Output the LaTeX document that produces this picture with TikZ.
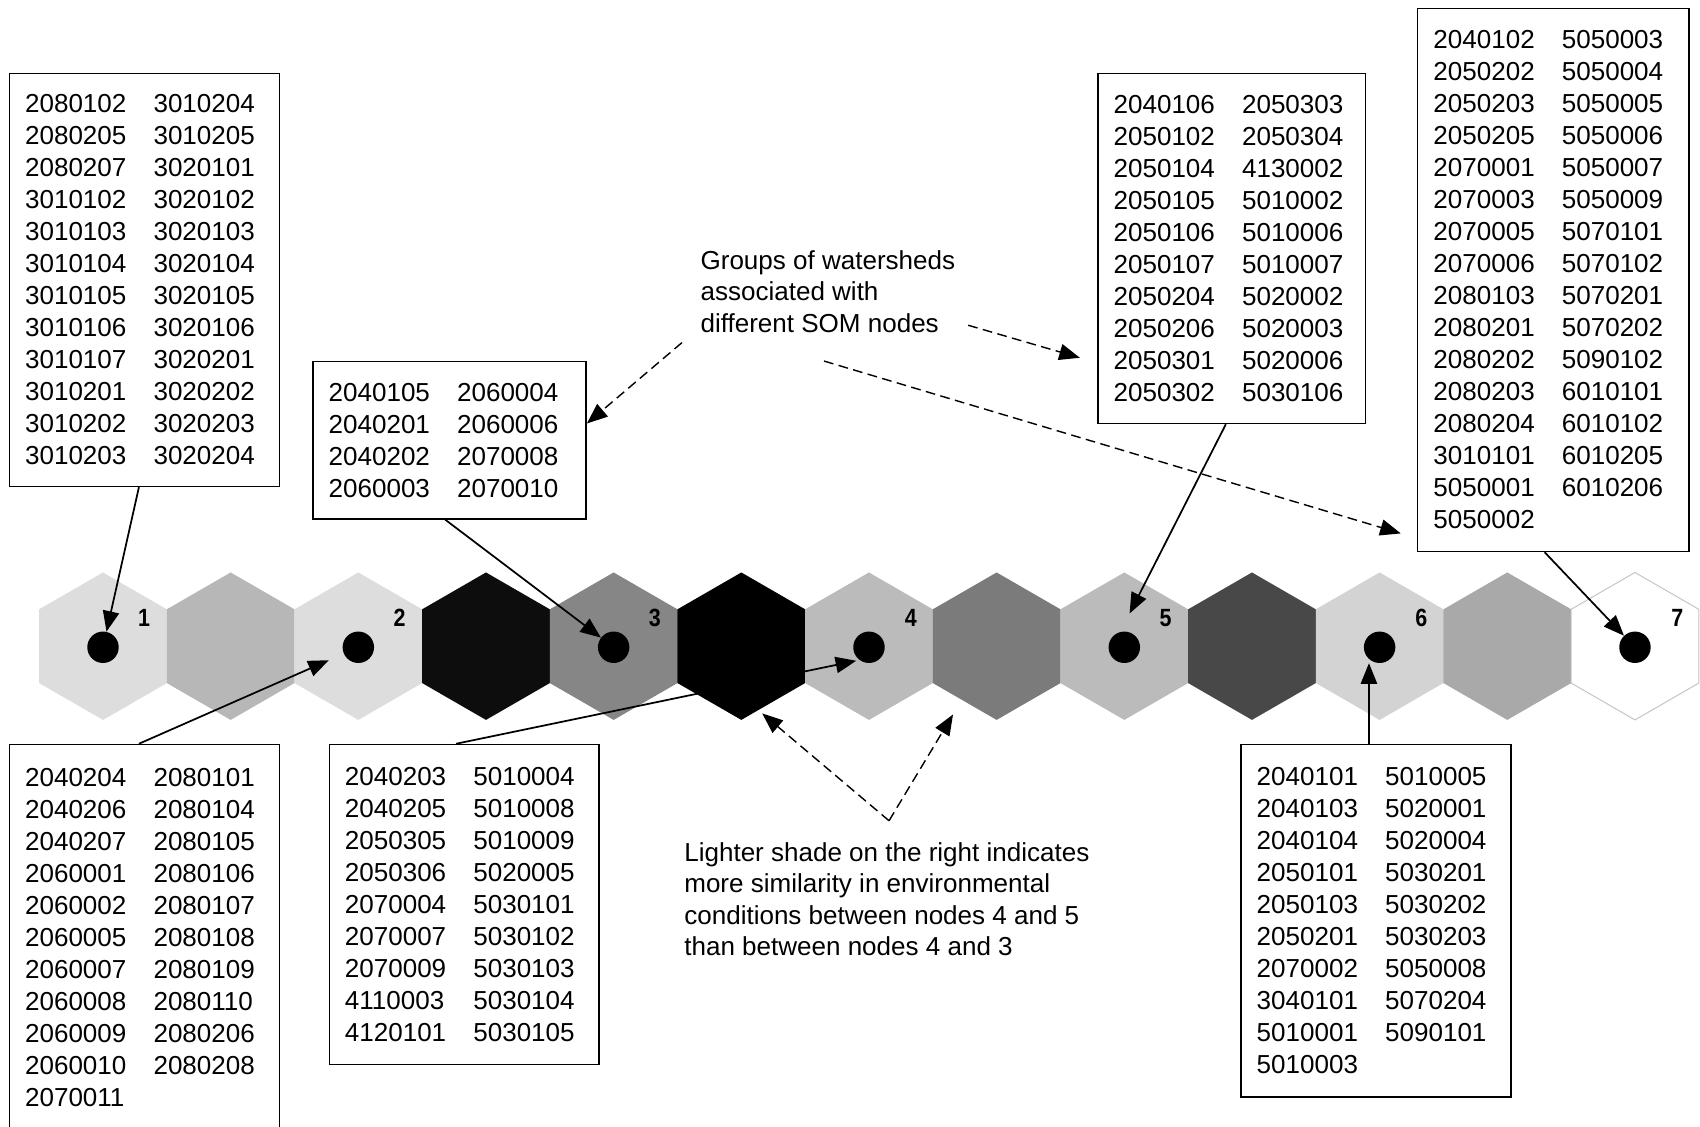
\documentclass[tikz,border=0pt]{standalone}
\usepackage{fontspec}
\setmainfont{Liberation Sans}
\newfontfamily\numfont[FakeStretch=0.86]{Liberation Sans}
\usetikzlibrary{arrows.meta}
\definecolor{hA}{HTML}{DDDDDD}
\definecolor{hB}{HTML}{B7B7B7}
\definecolor{hC}{HTML}{0D0D0D}
\definecolor{hD}{HTML}{868686}
\definecolor{hE}{HTML}{000000}
\definecolor{hF}{HTML}{BBBBBB}
\definecolor{hG}{HTML}{7B7B7B}
\definecolor{hH}{HTML}{484848}
\definecolor{hI}{HTML}{D3D3D3}
\definecolor{hJ}{HTML}{A9A9A9}
\definecolor{hK}{HTML}{FFFFFF}
\definecolor{hexedge}{HTML}{C4C4C4}
\newcommand\wpair[2]{\makebox[118.5pt][l]{#1}#2}
\tikzset{
  lst/.style={draw=black, line width=1.3pt, inner xsep=14.5pt, inner ysep=0pt,
    align=left, anchor=north west, font=\fontsize{24}{29.5}\selectfont},
  somdot/.style={circle, fill=black, minimum size=29pt, inner sep=0pt},
  num/.style={font=\numfont\bfseries\fontsize{23}{23}\selectfont, inner sep=0pt},
  note/.style={anchor=north west, inner sep=0pt, align=left,
    font=\fontsize{24}{29}\selectfont},
  arr/.style={-{Triangle[length=19pt,width=15pt]}, line width=1.6pt},
  darr/.style={-{Triangle[length=19pt,width=15pt]}, line width=1.3pt,
    dash pattern=on 9pt off 5pt}
}
\begin{document}
\begin{tikzpicture}[x=1pt,y=-1pt]
\useasboundingbox (0,0) rectangle (1568,1039);
\fill[white] (0,0) rectangle (1568,1039);

% hexagon row
\foreach \k/\c in {0/hA,1/hB,2/hA,3/hC,4/hD,5/hE,6/hF,7/hG,8/hF,9/hH,10/hI,11/hJ,12/hK}{
  \pgfmathsetmacro\cx{95+117.75*\k}
  \fill[\c] (\cx,528) -- ({\cx+58.9},562) -- ({\cx+58.9},630) -- (\cx,664)
    -- ({\cx-58.9},630) -- ({\cx-58.9},562) -- cycle;
}
\draw[hexedge, line width=0.9pt] (1508,528) -- (1566.9,562) -- (1566.9,630) -- (1508,664)
    -- (1449.1,630) -- (1449.1,562) -- cycle;

% SOM node dots and numbers
\node[somdot] (d1) at (95,597) {};
\node[somdot] (d2) at (330.5,597) {};
\node[somdot] (d3) at (566,597) {};
\node[somdot] (d4) at (801.5,597) {};
\node[somdot] (d5) at (1037,597) {};
\node[somdot] (d6) at (1272.5,597) {};
\node[somdot] (d7) at (1508,597) {};
\node[num] (n1) at (133,570) {1};
\node[num] (n2) at (368.5,570) {2};
\node[num] (n3) at (604,570) {3};
\node[num] (n4) at (840,570) {4};
\node[num] (n5) at (1075,570) {5};
\node[num] (n6) at (1311,570) {6};
\node[num] (n7) at (1547,570) {7};

% boxes
\node[lst, text width=220pt, minimum height=381pt] (bA) at (8,67) {%
\wpair{2080102}{3010204}\\ \wpair{2080205}{3010205}\\ \wpair{2080207}{3020101}\\
\wpair{3010102}{3020102}\\ \wpair{3010103}{3020103}\\ \wpair{3010104}{3020104}\\
\wpair{3010105}{3020105}\\ \wpair{3010106}{3020106}\\ \wpair{3010107}{3020201}\\
\wpair{3010201}{3020202}\\ \wpair{3010202}{3020203}\\ \wpair{3010203}{3020204}};

\node[lst, text width=223pt, minimum height=145pt] (bB) at (288,333) {%
\wpair{2040105}{2060004}\\ \wpair{2040201}{2060006}\\ \wpair{2040202}{2070008}\\
\wpair{2060003}{2070010}};

\node[lst, text width=218pt, minimum height=323pt] (bC) at (1012,67) {%
\wpair{2040106}{2050303}\\ \wpair{2050102}{2050304}\\ \wpair{2050104}{4130002}\\
\wpair{2050105}{5010002}\\ \wpair{2050106}{5010006}\\ \wpair{2050107}{5010007}\\
\wpair{2050204}{5020002}\\ \wpair{2050206}{5020003}\\ \wpair{2050301}{5020006}\\
\wpair{2050302}{5030106}};

\node[lst, text width=221pt, minimum height=501pt] (bD) at (1307,7) {%
\wpair{2040102}{5050003}\\ \wpair{2050202}{5050004}\\ \wpair{2050203}{5050005}\\
\wpair{2050205}{5050006}\\ \wpair{2070001}{5050007}\\ \wpair{2070003}{5050009}\\
\wpair{2070005}{5070101}\\ \wpair{2070006}{5070102}\\ \wpair{2080103}{5070201}\\
\wpair{2080201}{5070202}\\ \wpair{2080202}{5090102}\\ \wpair{2080203}{6010101}\\
\wpair{2080204}{6010102}\\ \wpair{3010101}{6010205}\\ \wpair{5050001}{6010206}\\
5050002};

\node[lst, text width=220pt, minimum height=356pt] (bE) at (8,686) {%
\wpair{2040204}{2080101}\\ \wpair{2040206}{2080104}\\ \wpair{2040207}{2080105}\\
\wpair{2060001}{2080106}\\ \wpair{2060002}{2080107}\\ \wpair{2060005}{2080108}\\
\wpair{2060007}{2080109}\\ \wpair{2060008}{2080110}\\ \wpair{2060009}{2080206}\\
\wpair{2060010}{2080208}\\ 2070011};

\node[lst, text width=220pt, minimum height=295pt] (bF) at (303,686) {%
\wpair{2040203}{5010004}\\ \wpair{2040205}{5010008}\\ \wpair{2050305}{5010009}\\
\wpair{2050306}{5020005}\\ \wpair{2070004}{5030101}\\ \wpair{2070007}{5030102}\\
\wpair{2070009}{5030103}\\ \wpair{4110003}{5030104}\\ \wpair{4120101}{5030105}};

\node[lst, text width=220pt, minimum height=325pt] (bG) at (1144,686) {%
\wpair{2040101}{5010005}\\ \wpair{2040103}{5020001}\\ \wpair{2040104}{5020004}\\
\wpair{2050101}{5030201}\\ \wpair{2050103}{5030202}\\ \wpair{2050201}{5030203}\\
\wpair{2070002}{5050008}\\ \wpair{3040101}{5070204}\\ \wpair{5010001}{5090101}\\
5010003};

% annotation texts
\node[note] (grp) at (646,231) {Groups of watersheds\\associated with\\different SOM nodes};
\node[note] (lit) at (631,777) {Lighter shade on the right indicates\\more similarity in environmental\\conditions between nodes 4 and 5\\than between nodes 4 and 3};

% solid connectors
\draw[arr] ([xshift=-5pt]bA.south) -- (d1);
\draw[arr] ([xshift=-4pt]bB.south) -- (d3);
\draw[arr, shorten >=35pt] ([xshift=-5.5pt]bC.south) -- ([xshift=-11pt]d5.center);
\draw[arr] ([xshift=-8pt]bD.south) -- (d7);
\draw[arr, shorten >=15pt] ([xshift=-5pt]bE.north) -- (d2);
\draw[arr, shorten >=12pt] ([xshift=-7.5pt]bF.north) -- ([yshift=-10pt]d4.center);
\draw[arr] ([xshift=-6.5pt]bG.north) -- ([xshift=-6.5pt]bG.north |- d6.south);

% dashed connectors
\coordinate (g1) at (629,316);
\coordinate (g2) at (893,300);
\coordinate (g3) at (760,333);
\coordinate (t2) at (996,330);
\coordinate (t3) at (1292,492);
\coordinate (lv) at (820,757);
\coordinate (l1) at (703,658);
\coordinate (l2) at (879,659);
\draw[darr] (g1) -- ([yshift=15.5pt]bB.east);
\draw[darr] (g2) -- (t2);
\draw[darr] (g3) -- (t3);
\draw[darr] (lv) -- (l1);
\draw[darr] (lv) -- (l2);
\end{tikzpicture}
\end{document}
